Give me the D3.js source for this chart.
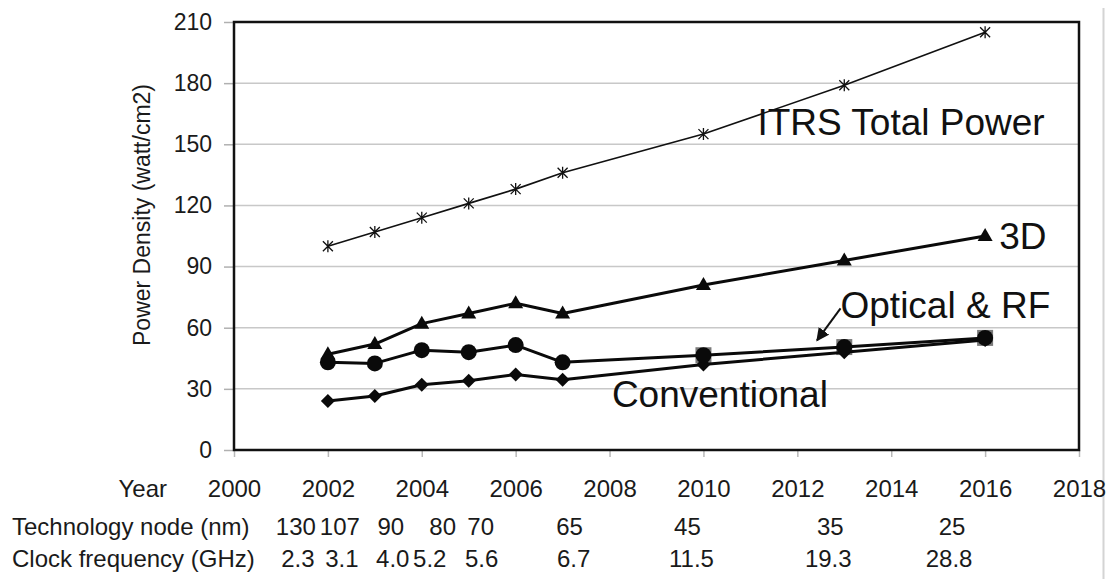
<!DOCTYPE html>
<html>
<head>
<meta charset="utf-8">
<script src="https://cdn.jsdelivr.net/npm/d3@7"></script>
<style>
  html, body { margin: 0; padding: 0; background: #fff; }
  svg { display: block; font-family: "Liberation Sans", Arial, Helvetica, sans-serif; }
</style>
</head>
<body>
<svg id="chart" width="1112" height="579"></svg>
<script>
// ---- data ----
const years        = [2002, 2003, 2004, 2005, 2006, 2007, 2010, 2013, 2016];
const itrsTotal    = [100, 107, 114, 121, 128, 136, 155, 179, 205];
const threeD       = [47, 52, 62, 67, 72, 67, 81, 93, 105];
const opticalRF    = [43, 42.5, 49, 48, 51.5, 43, 46.5, 50.5, 55];
const conventional = [24, 26.5, 32, 34, 37, 34.5, 42, 48, 54];
// later nodes where the optical point sits on a grey square marker
const squareYears  = [2010, 2013, 2016];

const yTicks    = [0, 30, 60, 90, 120, 150, 180, 210];
const yearTicks = [2000, 2002, 2004, 2006, 2008, 2010, 2012, 2014, 2016, 2018];
const techNode  = ["130", "107", "90", "80", "70", "65", "45", "35", "25"];
const clockFreq = ["2.3", "3.1", "4.0", "5.2", "5.6", "6.7", "11.5", "19.3", "28.8"];

// ---- layout ----
const W = 1112, H = 579;
const plot = { left: 234, right: 1079, top: 22, bottom: 450 };
const nodeShift  = [-32, -35, -31, -26, -35, 7, -16, -14, -33];
const clockShift = [-30, -33, -29, -39, -34, 11, -12, -16, -36];

const svg = d3.select("#chart");

const x = d3.scaleLinear().domain([2000, 2018]).range([plot.left, plot.right]);
const y = d3.scaleLinear().domain([0, 210]).range([plot.bottom, plot.top]);

// frame line on the far right
svg.append("line")
  .attr("x1", 1103.5).attr("x2", 1103.5).attr("y1", 8).attr("y2", H)
  .attr("stroke", "#d4d4d4").attr("stroke-width", 2);

// horizontal gridlines
svg.append("g")
  .selectAll("line")
  .data(yTicks.filter(d => d > 0 && d < 210))
  .join("line")
  .attr("x1", plot.left).attr("x2", plot.right)
  .attr("y1", d => y(d)).attr("y2", d => y(d))
  .attr("stroke", "#c8c8c8").attr("stroke-width", 1.5);

// y axis
const yAxis = svg.append("g")
  .attr("transform", `translate(${plot.left},0)`)
  .call(d3.axisLeft(y).tickValues(yTicks).tickSize(10).tickPadding(12).tickFormat(d3.format("d")));
yAxis.select(".domain").remove();
yAxis.selectAll(".tick line").attr("stroke", "#b0b0b0").attr("stroke-width", 1.5);
yAxis.selectAll(".tick text")
  .attr("fill", "#1a1a1a").attr("font-size", 23)
  .attr("font-family", "'Liberation Sans', Arial, sans-serif");

// x axis (years)
const xAxis = svg.append("g")
  .attr("transform", `translate(0,${plot.bottom})`)
  .call(d3.axisBottom(x).tickValues(yearTicks).tickSize(7).tickPadding(0).tickFormat(d3.format("d")));
xAxis.select(".domain").remove();
xAxis.selectAll(".tick line").attr("stroke", "#b8b8b8").attr("stroke-width", 1.5);
xAxis.selectAll(".tick text")
  .attr("y", 47).attr("dy", 0)
  .attr("fill", "#1a1a1a").attr("font-size", 24)
  .attr("font-family", "'Liberation Sans', Arial, sans-serif");

// plot border
svg.append("rect")
  .attr("x", plot.left).attr("y", plot.top)
  .attr("width", plot.right - plot.left).attr("height", plot.bottom - plot.top)
  .attr("fill", "none").attr("stroke", "#111").attr("stroke-width", 2.5);

// y axis title
svg.append("text")
  .attr("transform", `translate(150,215) rotate(-90)`)
  .attr("text-anchor", "middle")
  .attr("font-size", 23).attr("fill", "#1a1a1a")
  .text("Power Density (watt/cm2)");

// ---- series ----
const line = d3.line().x(d => x(d[0])).y(d => y(d[1]));
const pts = vals => years.map((yr, i) => [yr, vals[i]]);

// grey square markers under the later optical points
svg.append("g")
  .selectAll("rect")
  .data(squareYears.map(yr => [yr, opticalRF[years.indexOf(yr)]]))
  .join("rect")
  .attr("x", d => x(d[0]) - 8).attr("y", d => y(d[1]) - 8)
  .attr("width", 16).attr("height", 16)
  .attr("fill", "#7a7a7a");

// ITRS total power: thin line with star markers
svg.append("path")
  .datum(pts(itrsTotal))
  .attr("d", line).attr("fill", "none")
  .attr("stroke", "#111").attr("stroke-width", 1.6);
svg.append("g")
  .selectAll("path")
  .data(pts(itrsTotal))
  .join("path")
  .attr("transform", d => `translate(${x(d[0])},${y(d[1])})`)
  .attr("d", "M-5,-5L5,5M-5,5L5,-5M0,-6L0,6")
  .attr("stroke", "#111").attr("stroke-width", 1.3).attr("fill", "none");

// thick series
const thick = [
  { vals: threeD, kind: "triangle" },
  { vals: conventional, kind: "diamond" },
  { vals: opticalRF, kind: "circle" }
];
thick.forEach(s => {
  svg.append("path")
    .datum(pts(s.vals))
    .attr("d", line).attr("fill", "none")
    .attr("stroke", "#0a0a0a").attr("stroke-width", 3)
    .attr("stroke-linejoin", "round");
});

const markerPath = {
  triangle: "M0,-8L7.5,5L-7.5,5Z",
  diamond: "M0,-7L7,0L0,7L-7,0Z"
};
thick.forEach(s => {
  const g = svg.append("g");
  if (s.kind === "circle") {
    g.selectAll("circle").data(pts(s.vals)).join("circle")
      .attr("cx", d => x(d[0])).attr("cy", d => y(d[1]))
      .attr("r", 8).attr("fill", "#0a0a0a");
  } else {
    g.selectAll("path").data(pts(s.vals)).join("path")
      .attr("transform", d => `translate(${x(d[0])},${y(d[1])})`)
      .attr("d", markerPath[s.kind]).attr("fill", "#0a0a0a");
  }
});

// ---- series labels ----
const labelFont = 37;
const labels = [
  { text: "ITRS Total Power", at: [2011.15, 154.5] },
  { text: "3D", at: [2016.3, 98.5] },
  { text: "Optical & RF", at: [2012.92, 65] },
  { text: "Conventional", at: [2008.05, 21] }
];
svg.append("g")
  .selectAll("text")
  .data(labels)
  .join("text")
  .attr("x", d => x(d.at[0])).attr("y", d => y(d.at[1]))
  .attr("font-size", labelFont).attr("fill", "#111")
  .text(d => d.text);

// arrow from the optical label to its line
svg.append("defs").append("marker")
  .attr("id", "head").attr("viewBox", "0 0 10 10")
  .attr("refX", 9).attr("refY", 5)
  .attr("markerWidth", 6.5).attr("markerHeight", 6.5)
  .attr("markerUnits", "strokeWidth")
  .attr("orient", "auto")
  .append("path").attr("d", "M0,0L10,5L0,10Z").attr("fill", "#111");
svg.append("line")
  .attr("x1", x(2012.92)).attr("y1", y(69.5))
  .attr("x2", x(2012.42)).attr("y2", y(53.8))
  .attr("stroke", "#111").attr("stroke-width", 2)
  .attr("marker-end", "url(#head)");

// ---- table rows under the year axis ----
const rowFont = 24;
svg.append("text")
  .attr("x", 167).attr("y", 497).attr("text-anchor", "end")
  .attr("font-size", rowFont).attr("fill", "#1a1a1a").text("Year");
svg.append("text")
  .attr("x", 12).attr("y", 535)
  .attr("font-size", rowFont).attr("fill", "#1a1a1a").text("Technology node (nm)");
svg.append("text")
  .attr("x", 12).attr("y", 567)
  .attr("font-size", rowFont).attr("fill", "#1a1a1a").text("Clock frequency (GHz)");

svg.append("g")
  .selectAll("text")
  .data(techNode)
  .join("text")
  .attr("x", (d, i) => x(years[i]) + nodeShift[i]).attr("y", 535)
  .attr("text-anchor", "middle")
  .attr("font-size", rowFont).attr("fill", "#1a1a1a")
  .text(d => d);

svg.append("g")
  .selectAll("text")
  .data(clockFreq)
  .join("text")
  .attr("x", (d, i) => x(years[i]) + clockShift[i]).attr("y", 567)
  .attr("text-anchor", "middle")
  .attr("font-size", rowFont).attr("fill", "#1a1a1a")
  .text(d => d);
</script>
</body>
</html>
